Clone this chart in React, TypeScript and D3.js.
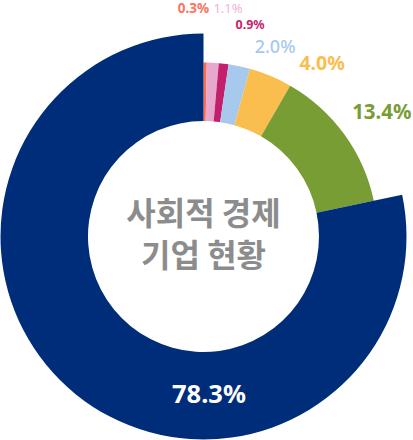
import React, { useEffect, useRef } from 'react';
import * as d3 from 'd3';

// shares (%) clockwise from 12 o'clock
const values = [0.3, 1.1, 0.9, 2.0, 4.0, 13.4, 78.3];
const labels = ['0.3%', '1.1%', '0.9%', '2.0%', '4.0%', '13.4%', '78.3%'];
const colors = ['#FF6A4D', '#E8A8CE', '#C21F6C', '#A8C9EE', '#F9BE4E', '#789D34', '#002D7A'];
const titleLines = ['사회적 경제', '기업 현황'];

// label placement: polar angle (deg, clockwise from top) and radius
const labelLayout = [
  { angle: -2.5, r: 229, size: 13.5, weight: 700, fill: '#F97560' },
  { angle: 6.1, r: 230.3, size: 13, weight: 400, fill: '#F2B2D8' },
  { angle: 12.4, r: 217, size: 12.5, weight: 700, fill: '#C8226F' },
  { angle: 20.6, r: 203.5, size: 18, weight: 500, fill: '#A8C9EE' },
  { angle: 34.2, r: 211, size: 19.5, weight: 700, fill: '#F9BE4E' },
  { angle: 54.9, r: 218, size: 20.5, weight: 700, fill: '#789D34' },
  { angle: 178, r: 157, size: 25.5, weight: 700, fill: '#ffffff' },
];

const W = 413;
const H = 440;
const cx = 203.5;
const cy = 236.5;
const innerR = 115.5;
const outerR = 174;
const bigR = 203;

const App: React.FC = () => {
  const svgRef = useRef<SVGSVGElement>(null);

  useEffect(() => {
    if (!svgRef.current) return;
    const svg = d3.select(svgRef.current);
    svg.selectAll('*').remove();

    const g = svg.append('g').attr('transform', `translate(${cx},${cy})`);

    const pie = d3.pie<number>().sort(null).value(d => d);
    const arcs = pie(values);
    const last = values.length - 1;

    const arc = d3.arc<d3.PieArcDatum<number>>()
      .innerRadius(innerR)
      .outerRadius(d => (d.index === last ? bigR : outerR));

    g.selectAll('path.slice')
      .data(arcs)
      .enter()
      .append('path')
      .attr('class', 'slice')
      .attr('d', arc)
      .attr('fill', (d, i) => colors[i]);

    // percentage labels
    g.selectAll('text.pct')
      .data(labels)
      .enter()
      .append('text')
      .attr('class', 'pct')
      .text(d => d)
      .attr('x', (d, i) => labelLayout[i].r * Math.sin((labelLayout[i].angle * Math.PI) / 180))
      .attr('y', (d, i) => -labelLayout[i].r * Math.cos((labelLayout[i].angle * Math.PI) / 180))
      .attr('text-anchor', 'middle')
      .attr('dominant-baseline', 'central')
      .attr('font-family', '"Noto Sans", "Noto Sans CJK KR", sans-serif')
      .attr('font-size', (d, i) => labelLayout[i].size)
      .attr('font-weight', (d, i) => labelLayout[i].weight)
      .attr('fill', (d, i) => labelLayout[i].fill);

    // centre title
    g.selectAll('text.title')
      .data(titleLines)
      .enter()
      .append('text')
      .attr('class', 'title')
      .text(d => d)
      .attr('x', 0)
      .attr('y', (d, i) => -26 + i * 42.5)
      .attr('text-anchor', 'middle')
      .attr('dominant-baseline', 'central')
      .attr('font-family', '"Noto Sans CJK KR", sans-serif')
      .attr('font-size', 32)
      .attr('font-weight', 700)
      .attr('fill', '#8C8C8C');
  }, []);

  return (
    <svg
      ref={svgRef}
      width={W}
      height={H}
      style={{ position: 'absolute', left: 0, top: 0, background: '#fff' }}
    />
  );
};

export default App;
